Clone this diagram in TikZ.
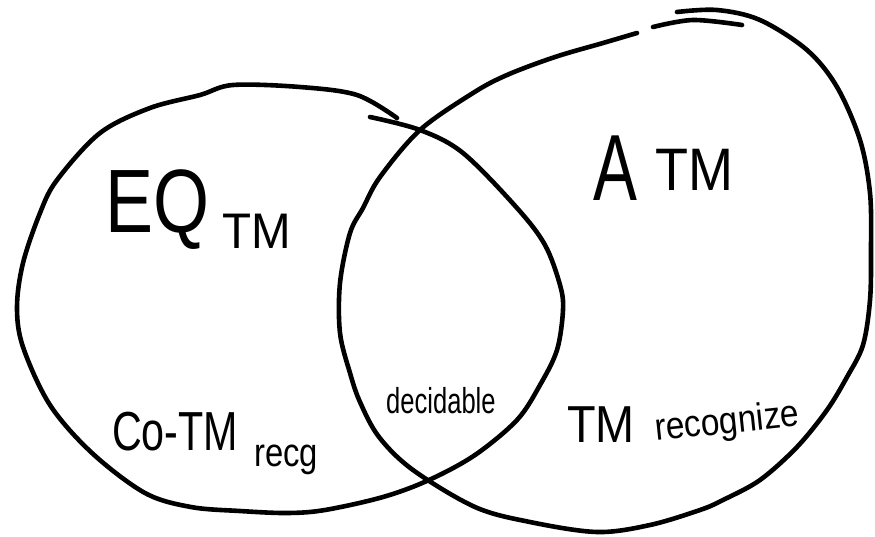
\documentclass[tikz,border=0pt]{standalone}
\usepackage{fontspec}
\setmainfont{Liberation Sans}
\tikzset{
  stroke/.style={line width=4.6pt, line cap=round, line join=round},
  lbl/.style={inner sep=0pt, anchor=base west},
}
\newcommand{\fs}[1]{\fontsize{#1}{#1}\selectfont}
\newcommand{\sqz}[2]{\scalebox{#1}[1]{#2}}
\begin{document}
\begin{tikzpicture}[x=1pt,y=-1pt]
\useasboundingbox (0,0) rectangle (875,536);
% left set (EQ_TM)
\draw[stroke] plot[smooth, tension=0.55] coordinates {
  (370,117) (420,130) (463,153) (517,208) (545,245) (560,285) (563,310)
  (557,350) (540,385) (517,420) (475,455) (429,480) (383,497) (325,510)
  (287,513) (240,511) (191,507) (145,493) (92,453) (50,405) (23,347)
  (17,307) (23,263) (40,213) (57,180) (100,133) (150,108) (200,95)
  (233,85) (300,87) (357,95) (397,118)};
% right set (A_TM)
\draw[stroke] plot[smooth, tension=0.55] coordinates {
  (677,12) (717,10) (760,20) (807,50) (837,87) (860,140) (870,193)
  (871,250) (870,300) (863,345) (847,377) (827,410) (797,447) (760,480)
  (723,500) (700,510) (650,525) (597,532) (530,522) (475,507) (413,470)
  (379,437) (360,402) (350,373) (340,333) (340,283) (350,233) (363,208)
  (380,177) (420,130) (473,93) (507,75) (555,57) (603,43) (637,33)};
\draw[stroke] plot[smooth, tension=0.55] coordinates {(653,27) (693,20) (742,25)};
% labels
\node[lbl] (eq) at (105,232) {\fs{90}\sqz{0.8}{EQ}};
\node[lbl] (eqs) at (222,248) {\fs{50}\sqz{0.95}{TM}};
\node[lbl] (a) at (593,200) {\fs{94}\sqz{0.7}{A}};
\node[lbl] (as) at (655,190) {\fs{60}\sqz{0.9}{TM}};
\node[lbl] (co) at (112,450) {\fs{55}\sqz{0.75}{Co-TM}};
\node[lbl] (cos) at (254,466) {\fs{40}\sqz{0.82}{recg}};
\node[lbl] (dec) at (386,413) {\fs{36}\sqz{0.71}{decidable}};
\node[lbl] (tm) at (567,442) {\fs{52}\sqz{0.9}{TM}};
\node[lbl, rotate=6] (rec) at (656,441) {\fs{38}\sqz{0.88}{recognize}};
\end{tikzpicture}
\end{document}
